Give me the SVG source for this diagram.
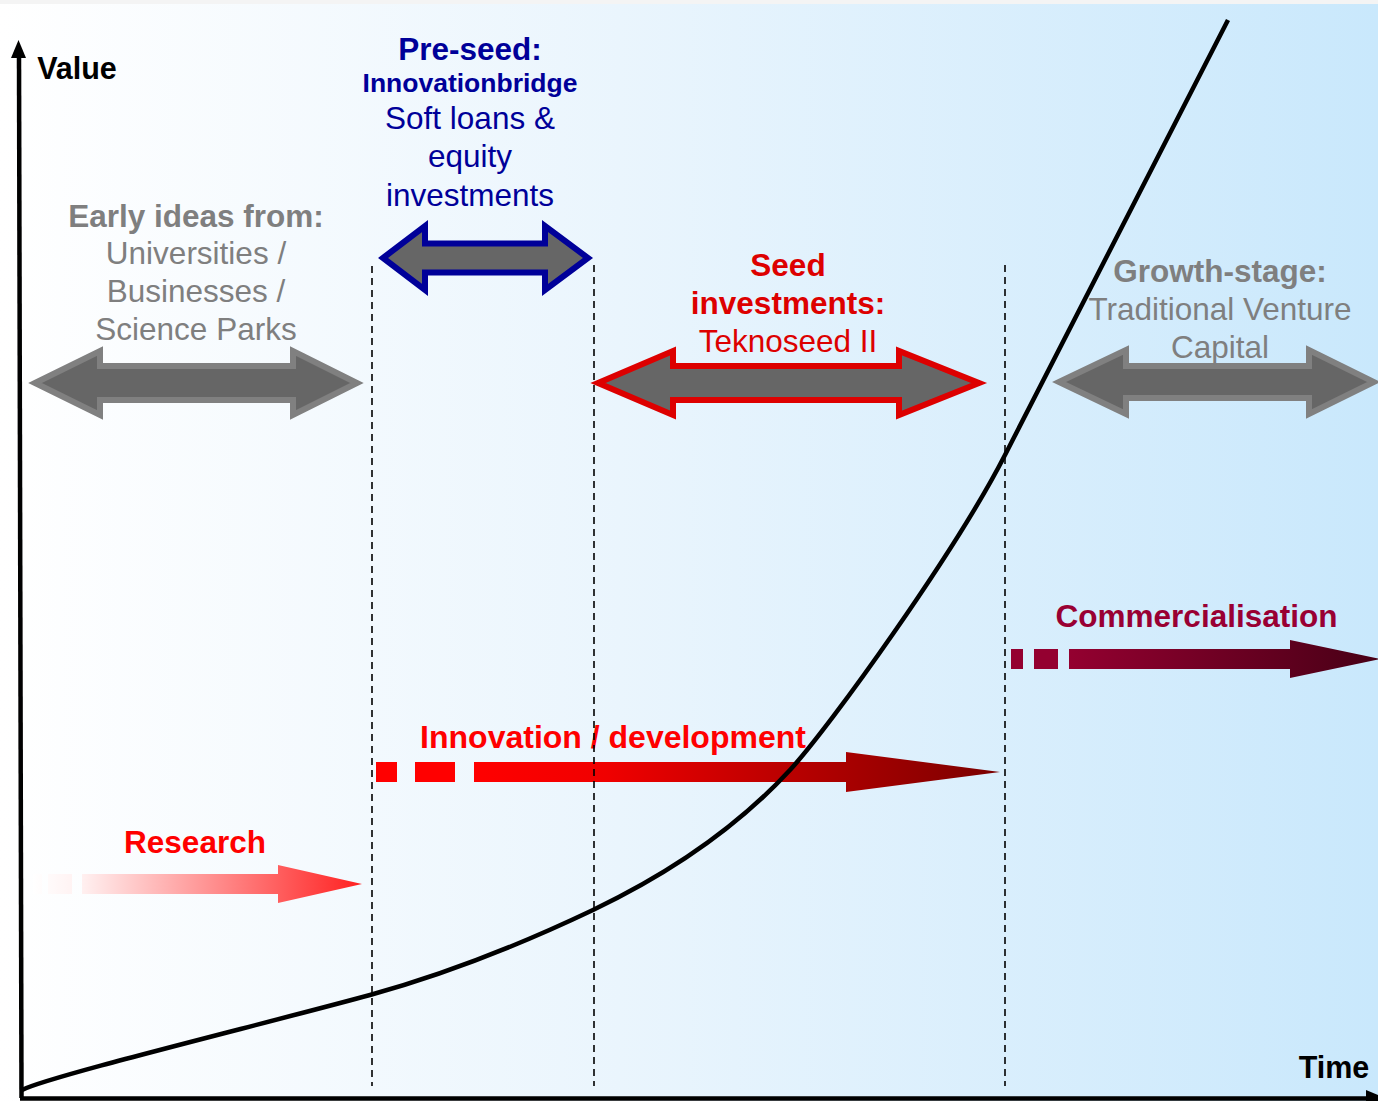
<svg xmlns="http://www.w3.org/2000/svg" width="1378" height="1101" viewBox="0 0 1378 1101">
  <defs>
    <linearGradient id="bg" x1="0" y1="0" x2="1378" y2="0" gradientUnits="userSpaceOnUse">
      <stop offset="0" stop-color="#ffffff"/>
      <stop offset="0.45" stop-color="#eaf5fd"/>
      <stop offset="1" stop-color="#c9e8fc"/>
    </linearGradient>
    <linearGradient id="gResearch" x1="33" y1="0" x2="362" y2="0" gradientUnits="userSpaceOnUse">
      <stop offset="0" stop-color="#ffffff"/>
      <stop offset="0.15" stop-color="#fff0f0"/>
      <stop offset="1" stop-color="#ff2020"/>
    </linearGradient>
    <linearGradient id="gInnov" x1="474" y1="0" x2="1000" y2="0" gradientUnits="userSpaceOnUse">
      <stop offset="0" stop-color="#ff0000"/>
      <stop offset="0.25" stop-color="#f00000"/>
      <stop offset="1" stop-color="#7a0000"/>
    </linearGradient>
    <linearGradient id="gComm" x1="1069" y1="0" x2="1378" y2="0" gradientUnits="userSpaceOnUse">
      <stop offset="0" stop-color="#940030"/>
      <stop offset="1" stop-color="#480016"/>
    </linearGradient>
    <style>
      text { font-family: "Liberation Sans", Arial, sans-serif; text-anchor: middle; }
      .b { font-weight: bold; }
      .f { font-size: 31.5px; }
      .gray { fill: #7f7f7f; }
      .blue { fill: #000099; }
      .red { fill: #dd0000; }
      .dbl { fill: #666666; stroke-width: 6; stroke-linejoin: miter; }
      .divider { stroke: #000; stroke-width: 1.6; stroke-dasharray: 7 5; fill: none; }
    </style>
  </defs>

  <g id="background">
    <rect x="0" y="0" width="1378" height="1101" fill="url(#bg)"/>
    <rect x="0" y="0" width="1378" height="4" fill="#f4f4f4"/>
  </g>

  <g id="axes">
    <line x1="19" y1="55" x2="21.5" y2="1098" stroke="#000" stroke-width="4.5"/>
    <polygon points="18.5,40 11,58 26,58" fill="#000"/>
    <line x1="20" y1="1098.5" x2="1370" y2="1098.5" stroke="#000" stroke-width="4.5"/>
    <polygon points="1366,1090 1386,1098.5 1366,1107" fill="#000"/>
    <text x="77" y="79" class="b" font-size="30.5">Value</text>
    <text x="1334" y="1078" class="b" font-size="30.5">Time</text>
  </g>

  <g id="early-ideas">
    <polygon class="dbl" stroke="#808080" points="35,383 100,351 100,366 293,366 293,351 357,383 293,415 293,400 100,400 100,415"/>
    <text x="196" y="227" class="b f gray">Early ideas from:</text>
    <text x="196" y="264" class="f gray">Universities /</text>
    <text x="196" y="302" class="f gray">Businesses /</text>
    <text x="196" y="340" class="f gray">Science Parks</text>
  </g>

  <g id="pre-seed">
    <polygon class="dbl" stroke="#000099" points="383,258 425,226 425,243.5 545,243.5 545,226 588,258 545,290 545,272.5 425,272.5 425,290"/>
    <text x="470" y="60" class="b f blue">Pre-seed:</text>
    <text x="470" y="92" class="b blue" font-size="26.5">Innovationbridge</text>
    <text x="470" y="129" class="f blue">Soft loans &amp;</text>
    <text x="470" y="167" class="f blue">equity</text>
    <text x="470" y="206" class="f blue">investments</text>
  </g>

  <g id="seed">
    <polygon class="dbl" stroke="#dd0000" points="598,383 673,351 673,366 899,366 899,351 979,383 899,415 899,400 673,400 673,415"/>
    <text x="788" y="276" class="b f red">Seed</text>
    <text x="788" y="314" class="b f red">investments:</text>
    <text x="788" y="352" class="f red">Teknoseed II</text>
  </g>

  <g id="growth">
    <polygon class="dbl" stroke="#808080" points="1059,382 1126,350 1126,366 1309,366 1309,350 1374,382 1309,414 1309,398 1126,398 1126,414"/>
    <text x="1220" y="282" class="b f gray">Growth-stage:</text>
    <text x="1220" y="320" class="f gray">Traditional Venture</text>
    <text x="1220" y="358" class="f gray">Capital</text>
  </g>

  <g id="research">
    <rect x="33" y="874" width="9" height="20" fill="url(#gResearch)"/>
    <rect x="48" y="874" width="24" height="20" fill="url(#gResearch)"/>
    <polygon points="82,874 278,874 278,865 362,884 278,903 278,894 82,894" fill="url(#gResearch)"/>
    <text x="195" y="853" class="b f" fill="#ff0000">Research</text>
  </g>

  <g id="innovation">
    <rect x="376" y="762" width="21" height="20" fill="#ff0000"/>
    <rect x="415" y="762" width="40" height="20" fill="#ff0000"/>
    <polygon points="474,762 846,762 846,752 1000,772 846,792 846,782 474,782" fill="url(#gInnov)"/>
    <text x="613" y="748" class="b" font-size="32" fill="#ff0000">Innovation / development</text>
  </g>

  <g id="commercialisation">
    <rect x="1011" y="649" width="12" height="20" fill="#940030"/>
    <rect x="1034" y="649" width="24" height="20" fill="#940030"/>
    <polygon points="1069,649 1290,649 1290,640 1380,659 1290,678 1290,669 1069,669" fill="url(#gComm)"/>
    <text x="1196.5" y="627" class="b" font-size="31.5" fill="#990033">Commercialisation</text>
  </g>

  <g id="connectors">
    <line class="divider" x1="372" y1="266" x2="372" y2="1086"/>
    <line class="divider" x1="594" y1="265" x2="594" y2="1086"/>
    <line class="divider" x1="1005" y1="265" x2="1005" y2="1086"/>
    <path id="value-curve" d="M22,1090 C50,1076 260,1025 370,995 C450,973 530,940 593,910 C660,878 730,835 790,770 C830,726.7 955,552.5 1005,455 L1228,20" fill="none" stroke="#000" stroke-width="4.5"/>
  </g>
</svg>
